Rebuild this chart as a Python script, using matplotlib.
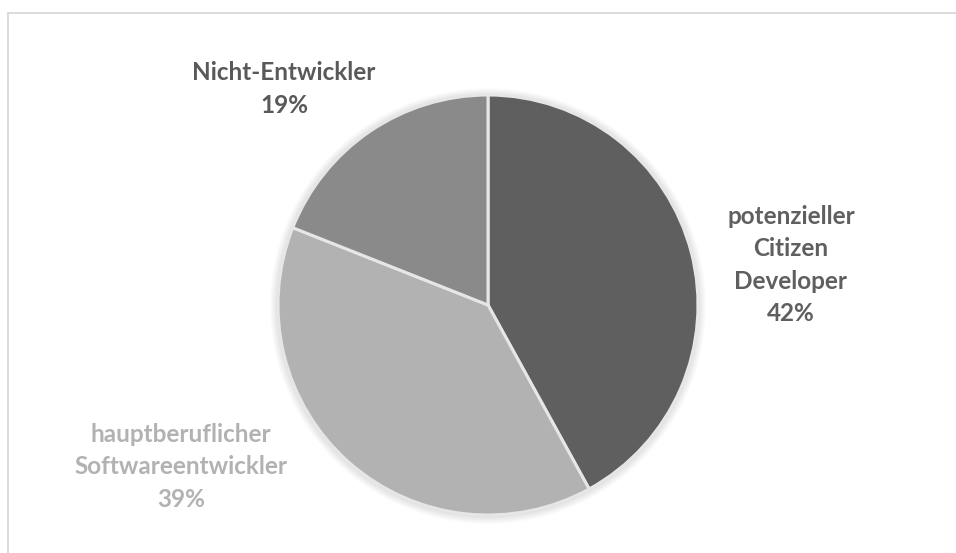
import matplotlib
matplotlib.use("Agg")
import matplotlib.pyplot as plt
from matplotlib.patches import Circle
from matplotlib.lines import Line2D

# ---- data ----
categories = ["potenzieller\nCitizen\nDeveloper", "hauptberuflicher\nSoftwareentwickler", "Nicht-Entwickler"]
values = [42, 39, 19]
slice_colors = ["#5f5f5f", "#b2b2b2", "#8a8a8a"]
label_colors = ["#5f5f5f", "#b2b2b2", "#595959"]

W, H = 956, 553
fig = plt.figure(figsize=(W / 100, H / 100), dpi=100)
ax = fig.add_axes([0, 0, 1, 1])
ax.set_xlim(0, W)
ax.set_ylim(0, H)
ax.set_aspect("equal")
ax.axis("off")

cx, cy, r = 488, H - 305, 210

# soft shadow
for i in range(10, 0, -1):
    ax.add_patch(Circle((cx, cy - 1), r + i * 0.8, color="black", alpha=0.012, lw=0, zorder=1))

wedges, _ = ax.pie(values, colors=slice_colors, startangle=90, counterclock=False,
                   center=(cx, cy), radius=r, frame=True,
                   wedgeprops=dict(edgecolor="#e6e6e6", linewidth=2.2))
for w in wedges:
    w.set_zorder(2)
ax.set_xlim(0, W)
ax.set_ylim(0, H)
ax.axis("off")

font = ["Lato", "DejaVu Sans"]
fs = 17.5
pct = [f"{v}%" for v in values]
# label centres (pixels from top-left)
label_pos = [(791, 265), (181, 467), (284, 89)]
for cat, p, col, (lx, ly) in zip(categories, pct, label_colors, label_pos):
    ax.text(lx, H - ly, f"{cat}\n{p}", ha="center", va="center", color=col,
            fontsize=fs, fontweight="bold", family=font, linespacing=1.5, zorder=5)

# chart border (top and left visible)
fig.add_artist(Line2D([8 / W, 1], [1 - 13 / H, 1 - 13 / H], color="#d9d9d9", lw=1.3))
fig.add_artist(Line2D([8 / W, 8 / W], [0, 1 - 13 / H], color="#d9d9d9", lw=1.3))

fig.savefig("out.png", dpi=100, facecolor="white")
